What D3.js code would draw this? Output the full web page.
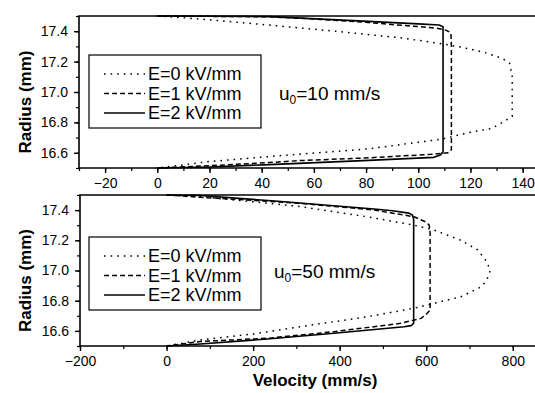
<!DOCTYPE html>
<html>
<head>
<meta charset="utf-8">
<script src="https://cdn.jsdelivr.net/npm/d3@7"></script>
<style>
  html, body { margin: 0; padding: 0; background: #fff; }
  svg { display: block; }
  text { font-family: "Liberation Sans", Arial, sans-serif; fill: #000; }
</style>
</head>
<body>
<svg id="chart" width="535" height="393"></svg>
<script>
// Field strengths shown in each panel's legend
const fieldLabels = ["E=0 kV/mm", "E=1 kV/mm", "E=2 kV/mm"];

// Inlet velocity of each panel
const inletLabels = ["10 mm/s", "50 mm/s"];

// Tick values
const radiusTicks = [16.6, 16.8, 17.0, 17.2, 17.4];
const radiusMinorTicks = [16.5, 16.6, 16.7, 16.8, 16.9, 17.0, 17.1, 17.2, 17.3, 17.4, 17.5];
const velTicksLow = [-20, 0, 20, 40, 60, 80, 100, 120, 140];
const velMinorLow = [-30, -20, -10, 0, 10, 20, 30, 40, 50, 60, 70, 80, 90, 100, 110, 120, 130, 140];
const velTicksHigh = [-200, 0, 200, 400, 600, 800];
const velMinorHigh = [-200, -100, 0, 100, 200, 300, 400, 500, 600, 700, 800];

// Velocity profiles [velocity (mm/s), radius (mm)], u0 = 10 mm/s
const u10E0 = [[0,17.5],[9,17.49],[20,17.475],[43,17.44],[68,17.40],[94,17.355],[108,17.32],[116.5,17.295],[125,17.262],[132,17.223],[135,17.19],[136,17.1],[136,16.9],[136,16.84],[133,16.807],[128,16.76],[120,16.735],[115,16.715],[109,16.69],[81,16.626],[44,16.577],[19,16.541],[9,16.518],[0,16.5]];
const u10E1 = [[0,17.5],[43,17.495],[55,17.485],[81,17.457],[107,17.42],[110.5,17.407],[112.5,17.39],[112.7,17.3],[112.7,16.62],[111.5,16.6],[105,16.59],[81,16.567],[55,16.549],[43,16.536],[20,16.515],[0,16.5]];
const u10E2 = [[0,17.5],[43,17.496],[77,17.468],[100,17.448],[108,17.441],[109.5,17.43],[109.5,16.607],[108.5,16.585],[106,16.57],[81,16.55],[43,16.522],[20,16.507],[0,16.5]];

// Velocity profiles [velocity (mm/s), radius (mm)], u0 = 50 mm/s
const u50E0 = [[0,17.5],[78,17.489],[200,17.455],[310,17.423],[464,17.356],[572,17.30],[618,17.268],[680,17.20],[719,17.136],[740,17.058],[748,17.0],[740,16.937],[728,16.893],[680,16.826],[618,16.783],[572,16.75],[464,16.694],[310,16.628],[200,16.58],[78,16.54],[0,16.5]];
const u50E1 = [[0,17.5],[78,17.485],[310,17.445],[480,17.40],[572,17.356],[600,17.32],[607,17.30],[609,17.25],[609,16.738],[600,16.71],[588,16.683],[541,16.65],[387,16.595],[233,16.551],[78,16.53],[0,16.5]];
const u50E2 = [[0,17.5],[78,17.497],[250,17.46],[479.5,17.407],[522,17.396],[560,17.38],[568,17.368],[571,17.34],[571,16.65],[565,16.635],[549,16.628],[387,16.584],[233,16.546],[78,16.513],[0,16.5]];

const styles = [
  { dash: "1.6,5", width: 1.5 },
  { dash: "5,3", width: 1.5 },
  { dash: null, width: 1.6 }
];

const panels = [
  { top: 16, bottom: 168, left: 79, right: 537, xDomain: [-30, 145.5],
    ticks: velTicksLow, minor: velMinorLow, series: [u10E0, u10E1, u10E2],
    inlet: inletLabels[0], legendTop: 55, inletX: 279, inletY: 100 },
  { top: 195, bottom: 346, left: 80, right: 537, xDomain: [-200, 856],
    ticks: velTicksHigh, minor: velMinorHigh, series: [u50E0, u50E1, u50E2],
    inlet: inletLabels[1], legendTop: 237, inletX: 274, inletY: 278 }
];

const svg = d3.select("#chart");

panels.forEach((p, i) => {
  const x = d3.scaleLinear().domain(p.xDomain).range([p.left, p.right]);
  const y = d3.scaleLinear().domain([16.5, 17.5]).range([p.bottom, p.top]);
  const g = svg.append("g");

  // minor ticks
  g.append("g")
    .attr("transform", `translate(0,${p.bottom})`)
    .call(d3.axisBottom(x).tickValues(p.minor).tickSize(3).tickFormat(""))
    .call(a => a.select(".domain").remove())
    .selectAll("line").attr("stroke-width", 1.2);
  g.append("g")
    .attr("transform", `translate(${p.left},0)`)
    .call(d3.axisLeft(y).tickValues(radiusMinorTicks).tickSize(3).tickFormat(""))
    .call(a => a.select(".domain").remove())
    .selectAll("line").attr("stroke-width", 1.2);

  // major ticks and labels
  const xa = g.append("g")
    .attr("transform", `translate(0,${p.bottom})`)
    .call(d3.axisBottom(x).tickValues(p.ticks).tickSize(5).tickPadding(5).tickFormat(d3.format("d")));
  xa.select(".domain").remove();
  xa.selectAll("line").attr("stroke-width", 1.4);
  xa.selectAll("text").attr("font-size", 14).attr("font-family", "Liberation Sans, Arial, sans-serif");

  const ya = g.append("g")
    .attr("transform", `translate(${p.left},0)`)
    .call(d3.axisLeft(y).tickValues(radiusTicks).tickSize(5).tickPadding(6).tickFormat(d3.format(".1f")));
  ya.select(".domain").remove();
  ya.selectAll("line").attr("stroke-width", 1.4);
  ya.selectAll("text").attr("font-size", 14).attr("font-family", "Liberation Sans, Arial, sans-serif");

  // frame
  g.append("path")
    .attr("d", `M${p.right},${p.top}H${p.left}V${p.bottom}H${p.right}`)
    .attr("fill", "none").attr("stroke", "#000").attr("stroke-width", 1.6);

  // profiles
  const line = d3.line().x(d => x(d[0])).y(d => y(d[1]));
  p.series.forEach((s, k) => {
    g.append("path")
      .attr("d", line(s))
      .attr("fill", "none")
      .attr("stroke", "#000")
      .attr("stroke-width", styles[k].width)
      .attr("stroke-dasharray", styles[k].dash)
      .attr("stroke-linejoin", "round");
  });

  // legend
  const lg = g.append("g").attr("transform", `translate(89,${p.legendTop})`);
  lg.append("rect").attr("x", 0).attr("y", 0).attr("width", 172).attr("height", 73)
    .attr("fill", "#fff").attr("stroke", "#000").attr("stroke-width", 1.2);
  fieldLabels.forEach((lab, k) => {
    const yy = 19 + k * 19.5;
    lg.append("line").attr("x1", 15).attr("x2", 56).attr("y1", yy).attr("y2", yy)
      .attr("stroke", "#000").attr("stroke-width", styles[k].width)
      .attr("stroke-dasharray", styles[k].dash);
    lg.append("text").attr("x", 59).attr("y", yy).attr("dy", "0.36em")
      .attr("font-size", 18).text(lab);
  });

  // inlet velocity annotation
  const t = g.append("text").attr("x", p.inletX).attr("y", p.inletY).attr("font-size", 19);
  t.append("tspan").text("u");
  t.append("tspan").attr("font-size", 12).attr("dy", 4).text("0");
  t.append("tspan").attr("dy", -4).text("=" + p.inlet);

  // y title
  g.append("text")
    .attr("transform", `translate(31,${(p.top + p.bottom) / 2 + 10}) rotate(-90)`)
    .attr("text-anchor", "middle").attr("font-weight", "bold").attr("font-size", 17)
    .text("Radius (mm)");
});

// x title
svg.append("text")
  .attr("x", 315).attr("y", 386)
  .attr("text-anchor", "middle").attr("font-weight", "bold").attr("font-size", 17)
  .text("Velocity (mm/s)");
</script>
</body>
</html>
